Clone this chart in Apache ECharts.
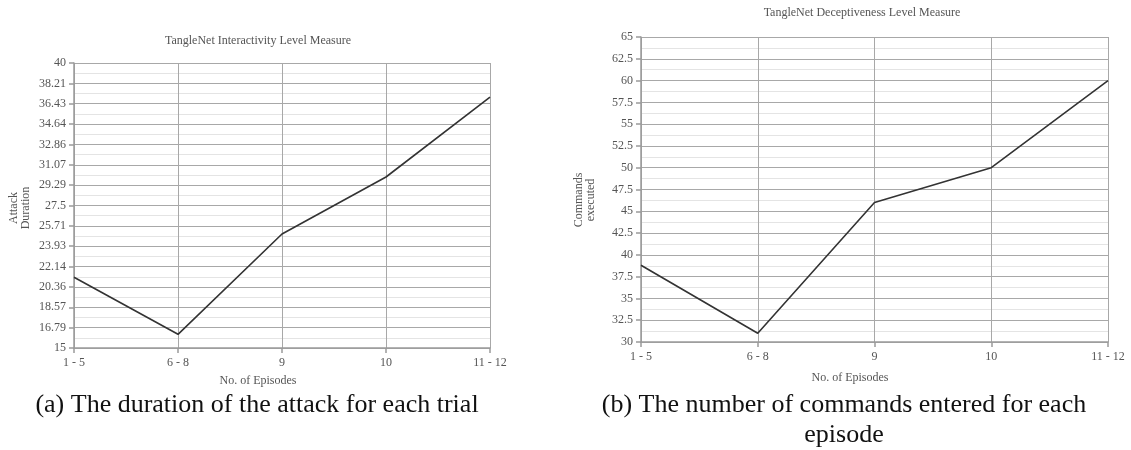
<!DOCTYPE html>
<html>
<head>
<meta charset="utf-8">
<script src="https://cdn.jsdelivr.net/npm/echarts@6/dist/echarts.min.js"></script>
<style>
html,body{margin:0;padding:0;background:#fff;}
#chart{width:1131px;height:450px;}
</style>
</head>
<body>
<div id="chart"></div>
<script>
// ---- data ----
var categories = ['1 - 5', '6 - 8', '9', '10', '11 - 12'];
var attackDuration = [21.2, 16.2, 25.0, 30.0, 37.0];
var commandsExecuted = [38.8, 31.0, 46.0, 50.0, 60.0];
var yTickLabelsA = ['15', '16.79', '18.57', '20.36', '22.14', '23.93', '25.71', '27.5', '29.29', '31.07', '32.86', '34.64', '36.43', '38.21', '40'];
var yTickLabelsB = ['30', '32.5', '35', '37.5', '40', '42.5', '45', '47.5', '50', '52.5', '55', '57.5', '60', '62.5', '65'];
var titleA = 'TangleNet Interactivity Level Measure';
var titleB = 'TangleNet Deceptiveness Level Measure';
var yNameA = 'Attack\nDuration';
var yNameB = 'Commands\nexecuted';
var xName = 'No. of Episodes';
var captionA = '(a) The duration of the attack for each trial';
var captionB = '(b) The number of commands entered for each\nepisode';

var FONT = 'Liberation Serif';
var TXT = '#555';
var minA = 15, maxA = 40, intA = (maxA - minA) / 14;
var minB = 30, maxB = 65, intB = 2.5;

function xAxisCfg(gi) {
  return {
    type: 'category', gridIndex: gi, data: categories, boundaryGap: false,
    axisLine: {lineStyle: {color: '#9a9a9a', width: 1.5}},
    axisTick: {show: true, alignWithLabel: true, length: 5, lineStyle: {color: '#9a9a9a', width: 1.5}},
    axisLabel: {color: TXT, fontFamily: FONT, fontSize: 12, margin: 9},
    splitLine: {show: true, lineStyle: {color: '#a8a8a8', width: 1}}
  };
}
function yAxisCfg(gi, mn, mx, iv, labels) {
  return {
    type: 'value', gridIndex: gi, min: mn, max: mx, interval: iv,
    axisLine: {show: true, lineStyle: {color: '#9a9a9a', width: 1.5}},
    axisTick: {show: true, length: 5, lineStyle: {color: '#9a9a9a', width: 1.5}},
    axisLabel: {
      color: TXT, fontFamily: FONT, fontSize: 12, margin: 8,
      formatter: function (v) { return labels[Math.round((v - mn) / iv)]; }
    },
    splitLine: {show: true, lineStyle: {color: '#a8a8a8', width: 1}},
    minorTick: {show: false, splitNumber: 2},
    minorSplitLine: {show: true, lineStyle: {color: '#e4e4e4', width: 1}}
  };
}

var chart = echarts.init(document.getElementById('chart'), null, {renderer: 'canvas'});
chart.setOption({
  backgroundColor: '#fff',
  animation: false,
  grid: [
    {left: 74, top: 63, width: 416, height: 285},
    {left: 641, top: 37, width: 467, height: 305}
  ],
  xAxis: [xAxisCfg(0), xAxisCfg(1)],
  yAxis: [yAxisCfg(0, minA, maxA, intA, yTickLabelsA), yAxisCfg(1, minB, maxB, intB, yTickLabelsB)],
  series: [
    {type: 'line', xAxisIndex: 0, yAxisIndex: 0, data: attackDuration, symbol: 'none',
      lineStyle: {color: '#333', width: 1.6}},
    {type: 'line', xAxisIndex: 1, yAxisIndex: 1, data: commandsExecuted, symbol: 'none',
      lineStyle: {color: '#333', width: 1.6}}
  ],
  graphic: [
    {type: 'text', x: 258, y: 41, style: {text: titleA, fill: TXT, font: '12px "' + FONT + '"', textAlign: 'center', textVerticalAlign: 'middle'}},
    {type: 'text', x: 862, y: 13, style: {text: titleB, fill: TXT, font: '12px "' + FONT + '"', textAlign: 'center', textVerticalAlign: 'middle'}},
    {type: 'text', x: 20, y: 208, rotation: Math.PI / 2, style: {text: yNameA, fill: TXT, font: '12px "' + FONT + '"', textAlign: 'center', textVerticalAlign: 'middle', lineHeight: 12}},
    {type: 'text', x: 585, y: 200, rotation: Math.PI / 2, style: {text: yNameB, fill: TXT, font: '12px "' + FONT + '"', textAlign: 'center', textVerticalAlign: 'middle', lineHeight: 12}},
    {type: 'text', x: 258, y: 381, style: {text: xName, fill: TXT, font: '12px "' + FONT + '"', textAlign: 'center', textVerticalAlign: 'middle'}},
    {type: 'text', x: 850, y: 378, style: {text: xName, fill: TXT, font: '12px "' + FONT + '"', textAlign: 'center', textVerticalAlign: 'middle'}},
    {type: 'text', x: 257, y: 405, style: {text: captionA, fill: '#111', font: '26px "' + FONT + '"', textAlign: 'center', textVerticalAlign: 'middle'}},
    {type: 'text', x: 844, y: 420, style: {text: captionB, fill: '#111', font: '26px "' + FONT + '"', textAlign: 'center', textVerticalAlign: 'middle', lineHeight: 30}}
  ]
});
</script>
</body>
</html>
